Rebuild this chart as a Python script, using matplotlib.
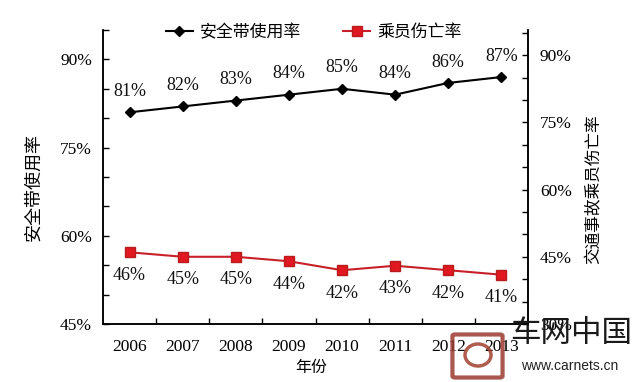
import matplotlib
matplotlib.use("Agg")
import matplotlib.pyplot as plt
from matplotlib.ticker import MultipleLocator, FixedLocator, FuncFormatter
from matplotlib.patches import FancyBboxPatch, Ellipse

plt.rcParams['font.family'] = ['Liberation Serif', 'Noto Sans CJK SC', 'DejaVu Sans']

years = ['2006', '2007', '2008', '2009', '2010', '2011', '2012', '2013']
belt_rate = [81, 82, 83, 84, 85, 84, 86, 87]
casualty_rate = [46, 45, 45, 44, 42, 43, 42, 41]

left_ticks = [45, 60, 75, 90]
right_ticks = [30, 45, 60, 75, 90]

fig = plt.figure(figsize=(6.4, 3.82), dpi=100)
ax = fig.add_axes([103/640, 1-324/382, 425/640, 294/382])
ax2 = ax.twinx()

x = list(range(len(years)))
cjk = ['Noto Sans CJK SC', 'DejaVu Sans']

l1, = ax.plot(x, belt_rate, color='black', lw=1.5, marker='D', ms=5,
              label='安全带使用率', zorder=3)
l2, = ax2.plot(x, casualty_rate, color='#c8202a', lw=1.5, marker='s', ms=6.5,
               markerfacecolor='#e01820', markeredgecolor='#b81c1c',
               label='乘员伤亡率', zorder=3)

for xi, v in zip(x, belt_rate):
    ax.annotate(f'{v}%', (xi, v), xytext=(0, 15), textcoords='offset points',
                ha='center', va='center', fontsize=13, color='#111111')
for xi, v in zip(x, casualty_rate):
    ax2.annotate(f'{v}%', (xi, v), xytext=(0, -16.5), textcoords='offset points',
                 ha='center', va='center', fontsize=13, color='#111111')

ax.set_xlim(-0.5, len(years) - 0.5)
ax.set_ylim(45, 95)
ax2.set_ylim(30, 95.6)

pct = FuncFormatter(lambda v, p: f'{v:.0f}%')
ax.yaxis.set_major_locator(FixedLocator(left_ticks))
ax.yaxis.set_minor_locator(MultipleLocator(5))
ax.yaxis.set_major_formatter(pct)
ax2.yaxis.set_major_locator(FixedLocator(right_ticks))
ax2.yaxis.set_minor_locator(MultipleLocator(5))
ax2.yaxis.set_major_formatter(pct)

ax.set_xticks(x)
ax.set_xticklabels(years)
ax.xaxis.set_minor_locator(FixedLocator([i + 0.5 for i in x[:-1]]))

for a in (ax, ax2):
    a.tick_params(axis='both', which='both', direction='in', length=4.3, width=1.0,
                  labelsize=12.5, colors='black')
ax.tick_params(axis='x', which='major', length=0, pad=11)
ax.tick_params(axis='y', which='both', pad=8)
ax2.tick_params(axis='y', which='both', pad=8.5)

for a in (ax, ax2):
    a.spines['top'].set_visible(False)
    for s in ('left', 'right', 'bottom'):
        a.spines[s].set_linewidth(1.1)
        a.spines[s].set_color('black')

ax.set_xlabel('年份', fontsize=11.5, family=cjk)
ax.xaxis.set_label_coords(0.49, -0.118)
ax.set_ylabel('安全带使用率', fontsize=13, family=cjk)
ax.yaxis.set_label_coords(-0.143, 0.466)
ax2.set_ylabel('交通事故乘员伤亡率', fontsize=12, family=cjk, rotation=90)
ax2.yaxis.set_label_coords(1.136, 0.459)

fig.legend(handles=[l1, l2], loc='center', bbox_to_anchor=(0.49, 1-32/382),
           ncol=2, frameon=False, prop={'family': cjk, 'size': 12.2},
           handlelength=1.6, handletextpad=0.4, columnspacing=2.5)

# watermark
fig.text(510/640, 1-334/382, '车网中国', fontsize=22, family=cjk, ha='left',
         va='center', color='#1a1a1a')
fig.text(570/640, 1-366/382, 'www.carnets.cn', fontsize=10, family='Liberation Sans',
         ha='center', va='center', color='#222222')
logo = FancyBboxPatch((455/640, 1-376/382), 45/640, 40/382,
                      boxstyle='round,pad=0.004', transform=fig.transFigure,
                      facecolor='none', edgecolor='#9a3a30', lw=3, alpha=0.85,
                      mutation_aspect=1)
fig.patches.append(logo)
fig.patches.append(Ellipse((478/640, 1-355/382), 26/640, 22/382,
                           transform=fig.transFigure, facecolor='none',
                           edgecolor='#a04030', lw=2.5, alpha=0.85))

fig.savefig('out.png', dpi=100)
